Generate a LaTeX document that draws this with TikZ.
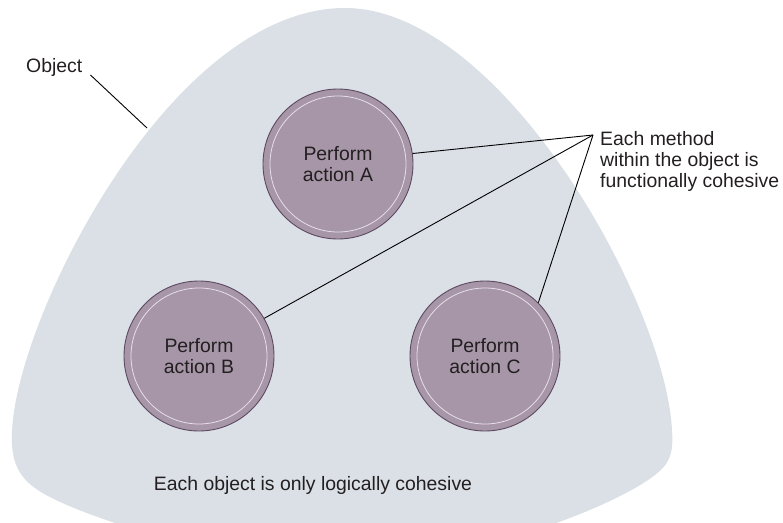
\documentclass[tikz,border=0pt]{standalone}
\usepackage{fontspec}
\setmainfont{Liberation Sans}
\usetikzlibrary{positioning}

\definecolor{blobfill}{RGB}{218,224,230}
\definecolor{actionfill}{RGB}{166,150,168}
\definecolor{actionedge}{RGB}{94,74,96}
\definecolor{ringline}{RGB}{232,222,234}
\definecolor{inktext}{RGB}{35,31,32}
\newcommand{\labelfont}{\fontsize{19.4}{21}\selectfont}

\begin{document}
\begin{tikzpicture}[
    x=1pt, y=-1pt,
    action/.style={
        circle,
        draw=actionedge,
        fill=actionfill,
        line width=0.9pt,
        minimum size=150pt,
        inner sep=0pt,
        align=center,
        text=inktext,
        font=\labelfont,
        path picture={\draw[ringline, line width=0.8pt] (path picture bounding box.center) circle (68pt);}
    },
    label_text/.style={
        inner sep=2pt,
        text=inktext,
        font=\labelfont
    },
    pointer/.style={
        draw=black,
        line width=0.9pt
    }
]

    \useasboundingbox (0,0) rectangle (783,522);

    % Object outline
    \begin{scope}
        \clip (0,0) rectangle (783,522);
        \fill[blobfill] (345,8)
            .. controls (500,8) and (665,300) .. (672,430)
            .. controls (674,458) and (668,467) .. (645,482)
            .. controls (610,505) and (480,565) .. (330,560)
            .. controls (200,560) and (60,508) .. (35,488)
            .. controls (15,474) and (11,455) .. (12,433)
            .. controls (15,320) and (170,8) .. (345,8) -- cycle;
    \end{scope}

    % Methods
    \node[action] (actA) at (338,164) {Perform\\action A};
    \node[action] (actB) at (199,356) {Perform\\action B};
    \node[action] (actC) at (485,356) {Perform\\action C};

    % Annotations
    \node[label_text, anchor=base west] (obj) at (24,72) {Object};
    \coordinate (objedge) at (147,128);
    \draw[pointer] (obj.base east) ++(6,3) -- (objedge);

    \node[label_text, inner sep=0pt, anchor=north west, align=left] (method) at (600,131)
        {Each method\\within the object is\\functionally cohesive};
    \coordinate (meet) at (593,135);
    \draw[pointer] (meet) -- (actA.8);
    \draw[pointer] (meet) -- (actB.30);
    \draw[pointer] (meet) -- (actC.45);

    \node[label_text, anchor=base] (cohesion) at (313,490) {Each object is only logically cohesive};

\end{tikzpicture}
\end{document}
